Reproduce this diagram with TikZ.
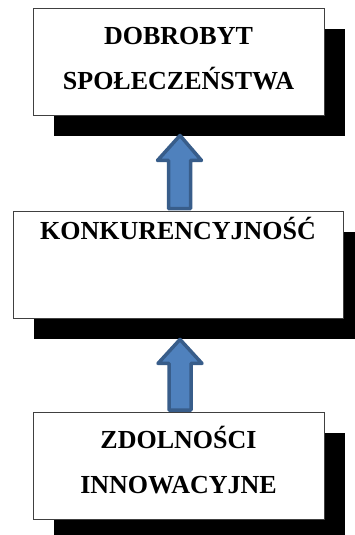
\documentclass[tikz,border=0pt]{standalone}
\usepackage{fontspec}
\setmainfont{Liberation Serif}
\usetikzlibrary{calc,shadows}

\definecolor{arrowfill}{HTML}{4F81BD}
\definecolor{arrowline}{HTML}{385D8A}

\tikzset{
  box/.style={draw=black!75, line width=0.9pt, fill=white, inner sep=0pt, align=center,
    minimum width=291pt, minimum height=107pt,
    font=\fontsize{26}{45.5}\selectfont\bfseries,
    drop shadow={shadow xshift=21pt, shadow yshift=-21pt, fill=black, opacity=1}},
  blockarrow/.style={draw=arrowline, fill=arrowfill, line width=3.5pt, line join=round}
}

\begin{document}
\begin{tikzpicture}[x=1pt,y=1pt]
            \useasboundingbox (0,0) rectangle (354,535);
            % Prostokaty
            \node[box, text height=64pt, text depth=7pt] (dob) at (178.5,473.5) {DOBROBYT\\SPOŁECZEŃSTWA};
            \node[box, minimum width=330pt, text height=18pt, text depth=67pt] (kon) at (178,270.5) {KONKURENCYJNOŚĆ};
            \node[box, text height=64pt, text depth=8pt] (zdo) at (178.5,69) {ZDOLNOŚCI\\INNOWACYJNE};
            % Strzalki
            \coordinate (t1) at ([xshift=1.5pt,yshift=-20pt]dob.south);
            \coordinate (t2) at ([xshift=2pt,yshift=-21pt]kon.south);
            \draw[blockarrow] let \p1=([xshift=1.5pt,yshift=2pt]kon.north), \p2=(t1) in
                (\x1-11pt,\y1) -- (\x1-11pt,\y2-25pt) -- (\x1-22pt,\y2-25pt) -- (\p2)
                -- (\x1+22pt,\y2-25pt) -- (\x1+11pt,\y2-25pt) -- (\x1+11pt,\y1) -- cycle;
            \draw[blockarrow] let \p1=([xshift=1.5pt,yshift=2pt]zdo.north), \p2=(t2) in
                (\x1-11pt,\y1) -- (\x1-11pt,\y2-24pt) -- (\x1-22pt,\y2-24pt) -- (\p2)
                -- (\x1+22pt,\y2-24pt) -- (\x1+11pt,\y2-24pt) -- (\x1+11pt,\y1) -- cycle;
\end{tikzpicture}
\end{document}
